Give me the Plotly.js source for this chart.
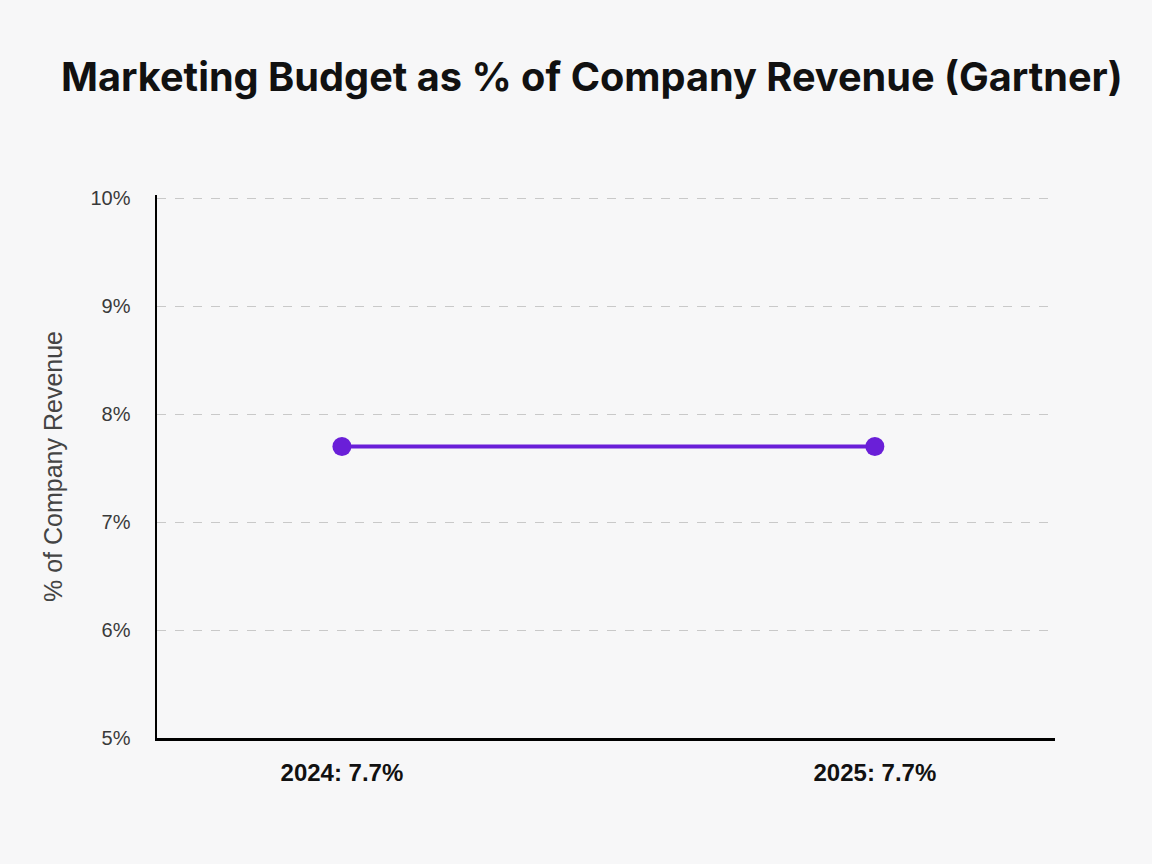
<!DOCTYPE html>
<html>
<head>
<meta charset="utf-8">
<script src="https://cdn.plot.ly/plotly-3.0.1.min.js"></script>
<style>html,body{margin:0;padding:0;background:#f7f7f8;}#chart{width:1152px;height:864px;}</style>
</head>
<body>
<div id="chart"></div>
<script>
const years = ['2024', '2025'];
const budgetPct = [7.7, 7.7];
const yTicks = [5, 6, 7, 8, 9, 10];

const xIdx = years.map((_, i) => i);
const xLabels = years.map((y, i) => y + ': ' + budgetPct[i].toFixed(1) + '%');
const yLabels = yTicks.map(v => v + '%');

const trace = {
  x: xIdx,
  y: budgetPct,
  type: 'scatter',
  mode: 'lines+markers',
  line: {color: '#6a1fd8', width: 4},
  marker: {color: '#6a1fd8', size: 19},
  hoverinfo: 'skip',
  showlegend: false
};

const layout = {
  width: 1152, height: 864,
  paper_bgcolor: '#f7f7f8', plot_bgcolor: '#f7f7f8',
  margin: {l: 157, r: 97, t: 195, b: 126},
  title: {
    text: '<b>Marketing Budget as % of Company Revenue (Gartner)</b>',
    font: {family: 'Inter, Liberation Sans, sans-serif', size: 39.7, color: '#111'},
    xref: 'container', x: 0.053, xanchor: 'left',
    yref: 'container', y: 0.911, yanchor: 'middle'
  },
  xaxis: {
    range: [-0.347, 1.338],
    tickvals: xIdx, ticktext: xLabels,
    showgrid: false, zeroline: false,
    showline: true, linecolor: '#000', linewidth: 2.5,
    ticks: '', ticklabelstandoff: 12,
    tickfont: {family: 'Liberation Sans, Arial, sans-serif', size: 24, color: '#111', weight: 'bold'}
  },
  yaxis: {
    range: [5, 10.03],
    tickvals: yTicks, ticktext: yLabels,
    showgrid: true, gridcolor: '#c9c9c9', gridwidth: 1, griddash: 'dash',
    zeroline: false,
    showline: true, linecolor: '#000', linewidth: 2.5,
    ticks: '', ticklabelstandoff: 20,
    tickfont: {family: 'Liberation Sans, Arial, sans-serif', size: 20, color: '#3a3a3a'},
    title: {text: '% of Company Revenue', standoff: 21,
      font: {family: 'Liberation Sans, Arial, sans-serif', size: 25, color: '#444'}}
  }
};

Plotly.newPlot('chart', [trace], layout, {displayModeBar: false, staticPlot: true});
</script>
</body>
</html>
